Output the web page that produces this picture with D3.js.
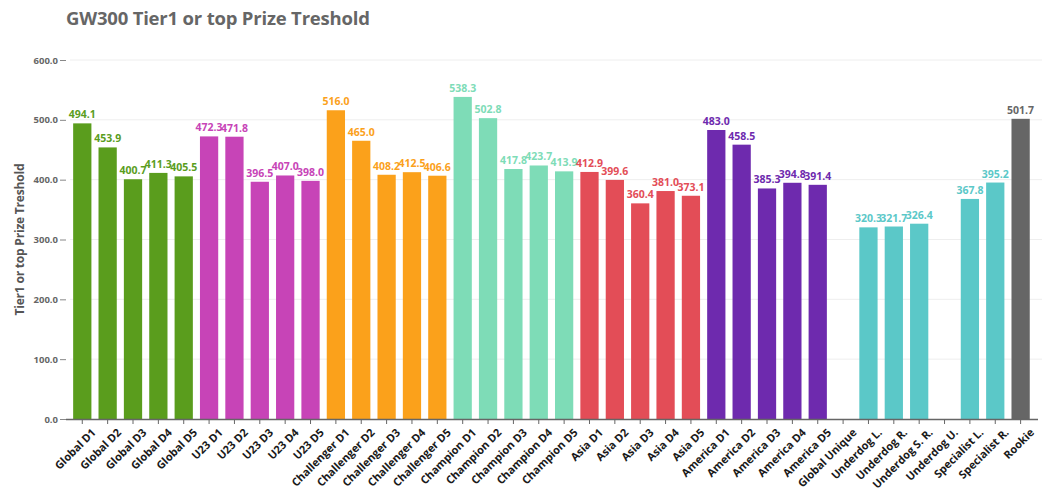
<!DOCTYPE html>
<html lang="en">
<head>
<meta charset="UTF-8">
<title>GW300 Tier1 or top Prize Treshold</title>
<script src="https://cdn.jsdelivr.net/npm/d3@7"></script>
<style>
    body { margin: 0; background: #fff; }
    text { font-family: "Open Sans", "DejaVu Sans", sans-serif; font-weight: 700; }
</style>
</head>
<body>
<script>
    // data
    var categories = [
        'Global D1', 'Global D2', 'Global D3', 'Global D4', 'Global D5',
        'U23 D1', 'U23 D2', 'U23 D3', 'U23 D4', 'U23 D5',
        'Challenger D1', 'Challenger D2', 'Challenger D3', 'Challenger D4', 'Challenger D5',
        'Champion D1', 'Champion D2', 'Champion D3', 'Champion D4', 'Champion D5',
        'Asia D1', 'Asia D2', 'Asia D3', 'Asia D4', 'Asia D5',
        'America D1', 'America D2', 'America D3', 'America D4', 'America D5',
        'Global Unique', 'Underdog L.', 'Underdog R.', 'Underdog S. R.', 'Underdog U.',
        'Specialist L.', 'Specialist R.', 'Rookie'
    ]
    var values = [
        494.1, 453.9, 400.7, 411.3, 405.5,
        472.3, 471.8, 396.5, 407.0, 398.0,
        516.0, 465.0, 408.2, 412.5, 406.6,
        538.3, 502.8, 417.8, 423.7, 413.9,
        412.9, 399.6, 360.4, 381.0, 373.1,
        483.0, 458.5, 385.3, 394.8, 391.4,
        null, 320.3, 321.7, 326.4, null,
        367.8, 395.2, 501.7
    ]
    var groups = [
        'Global', 'Global', 'Global', 'Global', 'Global',
        'U23', 'U23', 'U23', 'U23', 'U23',
        'Challenger', 'Challenger', 'Challenger', 'Challenger', 'Challenger',
        'Champion', 'Champion', 'Champion', 'Champion', 'Champion',
        'Asia', 'Asia', 'Asia', 'Asia', 'Asia',
        'America', 'America', 'America', 'America', 'America',
        'Other', 'Other', 'Other', 'Other', 'Other',
        'Other', 'Other', 'Rookie'
    ]
    var yTicks = [0, 100, 200, 300, 400, 500, 600]

    var dataSet = categories.map((c, i) => ({name: c, value: values[i], group: groups[i]}))

    var width = 1054
        height = 494
        padding = {top: 60, right: 12, bottom: 75, left: 66}

    var color = d3.scaleOrdinal()
        .domain(['Global', 'U23', 'Challenger', 'Champion', 'Asia', 'America', 'Other', 'Rookie'])
        .range(['#5a9d1d', '#c744b7', '#fba11b', '#7edcb7', '#e34d57', '#6e2aae', '#5bc8c8', '#666666'])

    var svg = d3.select('body')
        .append('svg')
        .attr('width', width)
        .attr('height', height)

    var xScale = d3.scaleBand()
        .domain(categories)
        .range([padding.left + 3.6, width - padding.right - 8.7])
        .paddingInner(0.28)
        .paddingOuter(0.14)
    var yScale = d3.scaleLinear()
        .domain([0, 600])
        .range([height - padding.bottom, padding.top])

    // title
    svg.append('text')
        .attr('x', 66)
        .attr('y', 25)
        .attr('font-size', 18.5)
        .attr('fill', '#666')
        .attr('textLength', 304)
        .text('GW300 Tier1 or top Prize Treshold')

    // grid
    svg.append('g')
        .selectAll('line')
        .data(yTicks.slice(1))
        .enter()
        .append('line')
        .attr('x1', padding.left + 4)
        .attr('x2', width - padding.right)
        .attr('y1', d => yScale(d))
        .attr('y2', d => yScale(d))
        .attr('stroke', '#eeeeee')

    // y axis
    var leftAxis = d3.axisLeft(yScale)
        .tickValues(yTicks)
        .tickSize(6)
        .tickPadding(2)
        .tickFormat(d3.format('.1f'))
    var gy = svg.append('g')
        .attr('transform', `translate(${padding.left}, 0)`)
        .call(leftAxis)
    gy.select('.domain').remove()
    gy.selectAll('line').attr('stroke', '#888')
    gy.selectAll('text')
        .attr('font-size', 9.5)
        .attr('fill', '#666')
        .style('font-family', '"Open Sans", sans-serif')
        .style('font-weight', 700)

    svg.append('text')
        .attr('transform', `translate(24, ${(yScale(0) + yScale(600)) / 2}) rotate(-90)`)
        .attr('text-anchor', 'middle')
        .attr('font-size', 12)
        .attr('fill', '#555')
        .attr('textLength', 152)
        .text('Tier1 or top Prize Treshold')

    // bars
    svg.selectAll('.bar')
        .data(dataSet.filter(d => d.value != null))
        .enter()
        .append('rect')
        .attr('class', 'bar')
        .attr('x', d => xScale(d.name))
        .attr('y', d => yScale(d.value))
        .attr('width', xScale.bandwidth())
        .attr('height', d => yScale(0) - yScale(d.value))
        .attr('fill', d => color(d.group))

    // value labels
    svg.selectAll('.val')
        .data(dataSet.filter(d => d.value != null))
        .enter()
        .append('text')
        .attr('class', 'val')
        .attr('x', d => xScale(d.name) + xScale.bandwidth() / 2)
        .attr('y', d => yScale(d.value) - 5)
        .attr('text-anchor', 'middle')
        .attr('font-size', 10.5)
        .attr('fill', d => color(d.group))
        .text(d => d3.format('.1f')(d.value))

    // x axis
    var bottomAxis = d3.axisBottom(xScale)
        .tickSize(5)
        .tickPadding(4)
    var gx = svg.append('g')
        .attr('transform', `translate(0, ${yScale(0)})`)
        .call(bottomAxis)
    gx.select('.domain')
        .attr('d', `M${padding.left},0.5H${width - padding.right - 4}`)
        .attr('stroke', '#666')
        .attr('stroke-width', 1.5)
    gx.selectAll('line').attr('stroke', '#666')
    gx.selectAll('text')
        .attr('font-size', 11)
        .attr('fill', '#1a1a1a')
        .style('font-family', '"Open Sans", sans-serif')
        .style('font-weight', 700)
        .attr('text-anchor', 'end')
        .attr('transform', 'translate(4, 4) rotate(-45)')
        .attr('dy', '0.5em')
</script>
</body>
</html>
